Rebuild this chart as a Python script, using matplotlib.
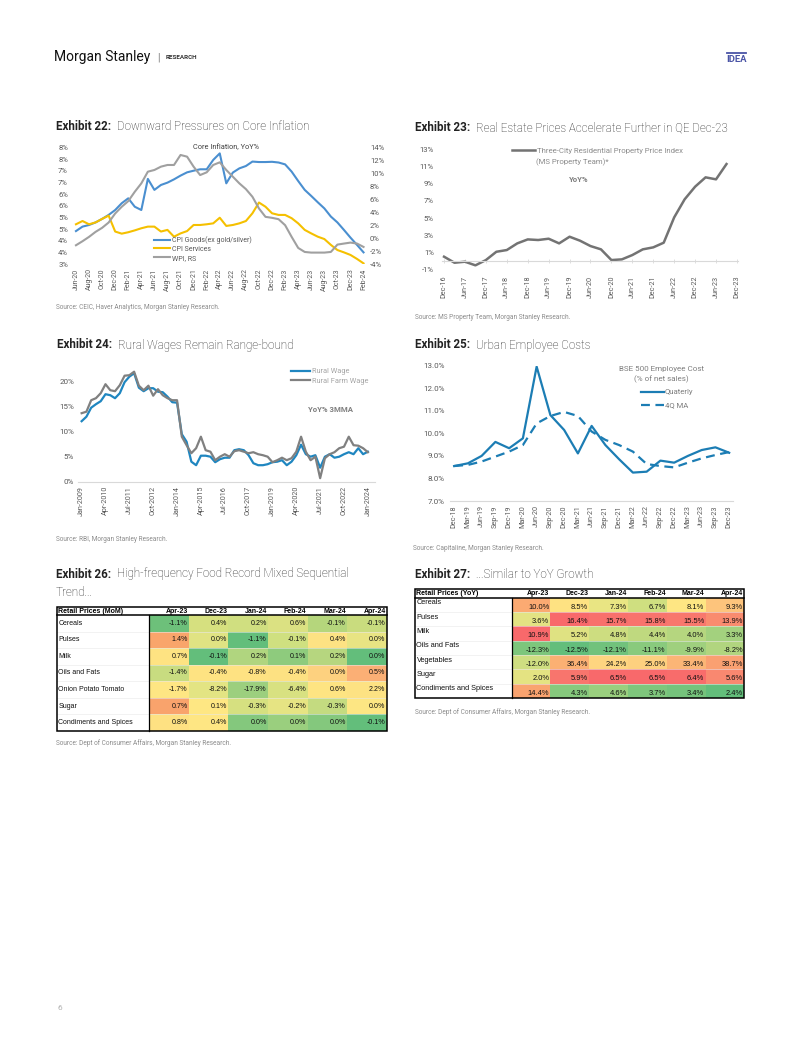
import matplotlib.pyplot as plt
import numpy as np
import pandas as pd
from matplotlib.patches import Rectangle
from matplotlib.ticker import FuncFormatter

plt.rcParams['font.family'] = ['Roboto', 'DejaVu Sans']

#==============================================================================
# DATA
#==============================================================================

# Exhibit 22 - monthly Jun-20 .. Feb-24
months22 = pd.date_range('2020-06-01', '2024-02-01', freq='MS').strftime('%b-%y')
cpi_goods = [4.42, 4.61, 4.68, 4.79, 4.94, 5.11, 5.32,
             5.61, 5.82, 5.46, 5.32, 6.65, 6.18, 6.39, 6.49, 6.63, 6.79, 6.93, 7.00,
             7.06, 7.06, 7.46, 7.74, 6.46, 6.92, 7.10, 7.20, 7.39, 7.37, 7.37, 7.38,
             7.35, 7.27, 6.96, 6.56, 6.18, 5.92, 5.65, 5.39, 5.04, 4.79, 4.47, 4.14,
             3.83, 3.51]
cpi_services = [4.71, 4.85, 4.71, 4.79, 4.94, 5.08, 4.40,
                4.31, 4.37, 4.45, 4.54, 4.61, 4.61, 4.40, 4.47, 4.18, 4.32, 4.42, 4.68,
                4.68, 4.71, 4.75, 4.99, 4.64, 4.68, 4.75, 4.85, 5.18, 5.64, 5.46, 5.18,
                5.11, 5.11, 4.97, 4.75, 4.47, 4.32, 4.18, 4.08, 3.83, 3.61, 3.51, 3.40,
                3.23, 3.04]
wpi = [-1.07, -0.45, 0.22, 0.99, 1.61, 2.43, 3.82,
       4.85, 5.72, 7.16, 8.45, 10.25, 10.51, 11.02, 11.28, 11.28, 12.82, 12.56, 11.02,
       9.73, 10.15, 11.28, 11.69, 10.51, 9.48, 8.45, 7.57, 6.39, 4.59, 3.30, 3.15,
       2.94, 2.02, 0.22, -1.48, -2.10, -2.20, -2.20, -2.20, -2.10, -0.97, -0.81, -0.66,
       -0.81, -1.33]

# Exhibit 23 - quarterly Dec-16 .. Sep-23
tick_labels23 = pd.date_range('2016-12-01', '2023-12-01', freq='6MS').strftime('%b-%y')
property_yoy = [0.54, -0.16, -0.04, -0.46, 0.15, 1.11, 1.31, 2.08, 2.54, 2.47,
                2.62, 2.08, 2.85, 2.39, 1.77, 1.39, 0.15, 0.23, 0.73, 1.39,
                1.62, 2.16, 5.09, 7.18, 8.64, 9.72, 9.49, 11.26]

# Exhibit 24 - every third month Jan-2009 .. Jan-2024
tick_labels24 = pd.date_range('2009-01-01', periods=13, freq='15MS').strftime('%b-%Y')
rural_wage = [12.1, 13.0, 14.8, 15.5, 16.1, 17.5, 17.3, 16.7, 17.7, 19.9, 21.0,
              21.7, 18.8, 18.1, 18.7, 18.7, 18.0, 17.9, 17.0, 15.9, 15.8, 9.5,
              8.0, 4.0, 3.3, 5.2, 5.2, 5.0, 3.9, 4.5, 4.8,
              4.8, 6.3, 6.5, 6.3, 5.3, 3.7, 3.3, 3.3, 3.5, 3.9, 4.0, 4.3, 3.3,
              4.0, 5.3, 7.4, 5.5, 5.0, 5.3, 2.8, 5.0, 5.5, 4.8, 5.0, 5.5, 5.9,
              5.5, 6.7, 5.5, 6.0]
rural_farm_wage = [13.7, 14.0, 16.3, 16.7, 17.7, 19.5, 18.3, 18.1, 19.3, 21.2, 21.3,
                   22.0, 19.2, 18.3, 19.2, 17.2, 18.5, 17.3, 16.7, 16.3, 16.3, 9.0,
                   7.3, 5.7, 6.7, 9.0, 6.3, 6.0, 4.3, 5.0, 5.5,
                   5.0, 6.1, 6.3, 6.0, 5.7, 5.9, 5.5, 5.3, 5.0, 3.9, 4.3, 4.8, 4.3,
                   4.7, 6.0, 9.0, 6.0, 4.3, 5.0, 0.7, 4.7, 5.5, 5.9, 6.7, 7.0, 9.0,
                   7.3, 7.2, 6.7, 5.9]

# Exhibit 25 - quarterly Dec-18 .. Dec-23
quarters25 = pd.date_range('2018-12-01', '2023-12-01', freq='3MS').strftime('%b-%y')
emp_cost_q = [8.55, 8.67, 9.00, 9.62, 9.34, 9.78, 12.96, 10.81, 10.15, 9.11, 10.33,
              9.48, 8.85, 8.26, 8.30, 8.79, 8.70, 9.00, 9.26, 9.38, 9.14]
emp_cost_ma = [8.55, 8.60, 8.75, 8.97, 9.19, 9.48, 10.44, 10.77, 10.95, 10.77, 10.08,
               9.71, 9.48, 9.19, 8.64, 8.55, 8.49, 8.70, 8.89, 9.04, 9.17]

# Exhibits 26 / 27 - retail price tables
table_cols = ['Apr-23', 'Dec-23', 'Jan-24', 'Feb-24', 'Mar-24', 'Apr-24']
mom_rows = ['Cereals', 'Pulses', 'Milk', 'Oils and Fats', 'Onion Potato Tomato',
            'Sugar', 'Condiments and Spices']
mom_vals = [[-1.1, 0.4, 0.2, 0.6, -0.1, -0.1],
            [1.4, 0.0, -1.1, -0.1, 0.4, 0.0],
            [0.7, -0.1, 0.2, 0.1, 0.2, 0.0],
            [-1.4, -0.4, -0.8, -0.4, 0.0, 0.5],
            [-1.7, -8.2, -17.9, -6.4, 0.6, 2.2],
            [0.7, 0.1, -0.3, -0.2, -0.3, 0.0],
            [0.8, 0.4, 0.0, 0.0, 0.0, -0.1]]
yoy_rows = ['Cereals', 'Pulses', 'Milk', 'Oils and Fats', 'Vegetables', 'Sugar',
            'Condiments and Spices']
yoy_vals = [[10.0, 8.5, 7.3, 6.7, 8.1, 9.3],
            [3.6, 16.4, 15.7, 15.8, 15.5, 13.9],
            [10.9, 5.2, 4.8, 4.4, 4.0, 3.3],
            [-12.3, -12.5, -12.1, -11.1, -9.9, -8.2],
            [-12.0, 36.4, 24.2, 25.0, 33.4, 38.7],
            [2.0, 5.9, 6.5, 6.5, 6.4, 5.6],
            [14.4, 4.3, 4.6, 3.7, 3.4, 2.4]]

# cell fills (conditional formatting in the original)
mom_colors = [['#6dc07a', '#d6e07f', '#d0df80', '#dbe182', '#b5d67c', '#c9dc7e'],
              ['#f9a56b', '#e0e383', '#63be7b', '#cfe080', '#fde283', '#e8e483'],
              ['#fee382', '#63be7b', '#b0d57f', '#8ecb7d', '#b6d67f', '#63be7b'],
              ['#c8dc80', '#fee382', '#fee282', '#fde182', '#fdd17f', '#fbaf75'],
              ['#fee683', '#e3e483', '#9ccf7e', '#d8e181', '#fee482', '#fde283'],
              ['#f9a36c', '#fee783', '#d6e080', '#e6e483', '#c4db80', '#fde683'],
              ['#fee182', '#fee683', '#84c87d', '#9acf7e', '#84c87d', '#63be7b']]
yoy_colors = [['#fbaa72', '#fee282', '#e9e583', '#cfdf80', '#fee683', '#fdc47c'],
              ['#e3e383', '#f8696b', '#f8706c', '#f8736d', '#f8776d', '#f98b6f'],
              ['#f8696b', '#dfe282', '#cddd80', '#bfd97f', '#b5d67f', '#a3d17e'],
              ['#7dc67c', '#63be7b', '#71c27c', '#89ca7d', '#9fd07e', '#b1d57f'],
              ['#cfde81', '#fbb073', '#fed580', '#fdd07f', '#fbb576', '#faa071'],
              ['#e4e382', '#f8756d', '#f8696b', '#f8696b', '#f86c6b', '#f98870'],
              ['#f9a36f', '#86c97d', '#9acf7e', '#7ec67c', '#75c37c', '#63be7b']]

#==============================================================================
# PAGE
#==============================================================================

W, H = 802, 1037
fig = plt.figure(figsize=(W / 100, H / 100), dpi=100)
page = fig.add_axes([0, 0, 1, 1])
page.set_xlim(0, W)
page.set_ylim(H, 0)
page.axis('off')
renderer = fig.canvas.get_renderer()

TICK = '#595959'
SRC = '#8c8c8c'


def px_axes(x0, y0, x1, y1):
    ax = fig.add_axes([x0 / W, 1 - y1 / H, (x1 - x0) / W, (y1 - y0) / H])
    ax.patch.set_alpha(0)
    for s in ax.spines.values():
        s.set_visible(False)
    return ax


def exhibit_title(x, y, num, text):
    t = page.text(x, y, f'Exhibit {num}:', fontsize=8.4, fontweight='bold',
                  color='#222222', va='center')
    bb = t.get_window_extent(renderer=renderer)
    page.text(bb.x1 + 6, y, text, fontsize=8.4, fontweight='light', color='#262626', va='center')


def source(x, y, text):
    page.text(x, y, text, fontsize=4.7, color=SRC, va='center')


# header
page.text(54.5, 57, 'Morgan Stanley', fontsize=10, color='#111111', va='center')
page.text(157, 57, '|', fontsize=7, color='#777777', va='center')
page.text(166, 57.5, 'RESEARCH', fontsize=4.5, fontweight='bold', color='#333333', va='center')
page.text(736.5, 59, 'IDEA', fontsize=6.8, fontweight='bold', color='#4a54a6', va='center', ha='center')
page.plot([727, 746], [53, 53], color='#4a54a6', lw=1.3)
page.text(57, 1008, '6', fontsize=6, color='#b0b0b0', va='center')

#==============================================================================
# EXHIBIT 22
#==============================================================================
exhibit_title(55.7, 126.7, 22, 'Downward Pressures on Core Inflation')
ax = px_axes(74, 147.3, 365.5, 264.3)
x22 = np.arange(len(months22))
ax.plot(x22, cpi_goods, color='#4a8fd0', lw=1.5, label='CPI Goods(ex gold/silver)')
ax.plot(x22, cpi_services, color='#f5c000', lw=1.5, label='CPI Services')
ax2 = ax.twinx()
ax2.patch.set_alpha(0)
for s in ax2.spines.values():
    s.set_visible(False)
ax2.plot(x22, wpi, color='#a0a0a0', lw=1.5, label='WPI, RS')
ax.set_xlim(-0.3, len(months22) - 0.7)
ax.set_ylim(3, 8)
ax.set_yticks(np.arange(3, 8.01, 0.5))
ax.yaxis.set_major_formatter(FuncFormatter(lambda v, p: f'{int(np.floor(v + 0.5))}%'))
ax2.set_ylim(-4, 14)
ax2.set_yticks(np.arange(-4, 14.1, 2))
ax2.yaxis.set_major_formatter(FuncFormatter(lambda v, p: f'{v:.0f}%'))
ax.set_xticks(x22[::2])
ax.set_xticklabels(months22[::2], rotation=90)
ax.tick_params(axis='x', length=0, labelsize=5.0, labelcolor=TICK, pad=3)
ax.tick_params(axis='y', length=0, labelsize=5.5, labelcolor=TICK, pad=4.3)
ax2.tick_params(axis='y', length=0, labelsize=5.5, labelcolor=TICK, pad=3.2)
ax.text(0.52, 1.0, 'Core Inflation, YoY%', transform=ax.transAxes, ha='center', va='center',
        fontsize=5.3, color='#404040')
h1, l1 = ax.get_legend_handles_labels()
h2, l2 = ax2.get_legend_handles_labels()
ax2.legend(h1 + h2, l1 + l2, loc='upper left', bbox_to_anchor=(154 / W, 1 - 236 / H),
           bbox_transform=fig.transFigure, frameon=False, fontsize=5.0, labelcolor=TICK,
           handlelength=2.3, handletextpad=0.25, labelspacing=0.28, borderpad=0, borderaxespad=0)
source(55.7, 307.7, 'Source: CEIC, Haver Analytics, Morgan Stanley Research.')

#==============================================================================
# EXHIBIT 23
#==============================================================================
exhibit_title(415, 127.7, 23, 'Real Estate Prices Accelerate Further in QE Dec-23')
ax = px_axes(442.3, 149, 738, 270)
x23 = np.arange(len(property_yoy)) * 3
ax.plot(x23, property_yoy, color='#737373', lw=1.8,
        label='Three-City Residential Property Price Index')
ax.set_xlim(-0.5, 84.3)
ax.set_ylim(-1, 13)
ax.set_yticks(np.arange(-1, 13.1, 2))
ax.yaxis.set_major_formatter(FuncFormatter(lambda v, p: f'{v:.0f}%'))
ax.spines['bottom'].set_visible(True)
ax.spines['bottom'].set_position(('data', 0))
ax.spines['bottom'].set_color('#d9d9d9')
ax.spines['bottom'].set_linewidth(0.8)
ax.set_xticks(np.arange(0, 84.1, 6))
ax.set_xticklabels(tick_labels23, rotation=90)
ax.tick_params(axis='x', direction='inout', length=3.5, width=0.6, color='#d9d9d9',
               labelsize=5.2, labelcolor=TICK, pad=8.5)
ax.tick_params(axis='y', length=0, labelsize=5.6, labelcolor=TICK, pad=6)
ax.legend(loc='upper left', bbox_to_anchor=(512 / W, 1 - 147.5 / H), bbox_transform=fig.transFigure,
          frameon=False, fontsize=5.6, labelcolor='#8c8c8c', handlelength=3.0,
          handletextpad=0.2, borderpad=0, borderaxespad=0)
page.text(535.5, 161.7, '(MS Property Team)*', fontsize=5.6, color='#8c8c8c', va='center')
page.text(579, 180, 'YoY%', fontsize=5.6, fontweight='bold', color='#7f7f7f', va='center', ha='center')
source(415, 317.3, 'Source: MS Property Team, Morgan Stanley Research.')

#==============================================================================
# EXHIBIT 24
#==============================================================================
exhibit_title(56.7, 345, 24, 'Rural Wages Remain Range-bound')
ax = px_axes(78.3, 366.7, 375, 481.7)
x24 = np.arange(len(rural_wage)) * 3
ax.plot(x24, rural_wage, color='#1f86c0', lw=1.6, label='Rural Wage')
ax.plot(x24, rural_farm_wage, color='#808080', lw=1.6, label='Rural Farm Wage')
ax.set_xlim(-2.1, 184.5)
ax.set_ylim(0, 23)
ax.set_yticks(np.arange(0, 20.1, 5))
ax.yaxis.set_major_formatter(FuncFormatter(lambda v, p: f'{v:.0f}%'))
ax.spines['bottom'].set_visible(True)
ax.spines['bottom'].set_color('#d9d9d9')
ax.spines['bottom'].set_linewidth(0.8)
ax.set_xticks(np.arange(0, 180.1, 15))
ax.set_xticklabels(tick_labels24, rotation=90)
ax.tick_params(axis='x', length=0, labelsize=5.2, labelcolor=TICK, pad=3)
ax.tick_params(axis='y', length=0, labelsize=5.8, labelcolor=TICK, pad=3)
ax.legend(loc='upper left', bbox_to_anchor=(291 / W, 1 - 368 / H), bbox_transform=fig.transFigure,
          frameon=False, fontsize=5.3, labelcolor='#a6a6a6', handlelength=2.6,
          handletextpad=0.2, labelspacing=0.3, borderpad=0, borderaxespad=0)
page.text(331, 409, 'YoY% 3MMA', fontsize=5.6, fontweight='bold', color='#7f7f7f', va='center', ha='center')
source(56, 539.3, 'Source: RBI, Morgan Stanley Research.')

#==============================================================================
# EXHIBIT 25
#==============================================================================
exhibit_title(415, 345, 25, 'Urban Employee Costs')
ax = px_axes(450, 365.7, 733.3, 501)
x25 = np.arange(len(quarters25))
ax.plot(x25, emp_cost_q, color='#1c7db4', lw=1.6, label='Quaterly')
ax.plot(x25, emp_cost_ma, color='#1c7db4', lw=1.6, ls=(0, (4, 2.5)), label='4Q MA')
ax.set_xlim(-0.3, 20.3)
ax.set_ylim(7, 13)
ax.set_yticks(np.arange(7, 13.01, 1))
ax.yaxis.set_major_formatter(FuncFormatter(lambda v, p: f'{v:.1f}%'))
ax.spines['bottom'].set_visible(True)
ax.spines['bottom'].set_color('#d9d9d9')
ax.spines['bottom'].set_linewidth(0.8)
ax.set_xticks(x25)
ax.set_xticklabels(quarters25, rotation=90)
ax.tick_params(axis='x', length=0, labelsize=5.2, labelcolor=TICK, pad=3)
ax.tick_params(axis='y', length=0, labelsize=5.8, labelcolor=TICK, pad=3.6)
ax.legend(loc='upper left', bbox_to_anchor=(641 / W, 1 - 389 / H), bbox_transform=fig.transFigure,
          frameon=False, fontsize=5.6, labelcolor='#7f7f7f', handlelength=2.9,
          handletextpad=0.2, labelspacing=0.85, borderpad=0, borderaxespad=0)
page.text(661.7, 369, 'BSE 500 Employee Cost', fontsize=5.8, color='#7f7f7f', va='center', ha='center')
page.text(661.7, 379.3, '(% of net sales)', fontsize=5.8, color='#7f7f7f', va='center', ha='center')
source(413, 548.3, 'Source: Capitaline, Morgan Stanley Research.')

#==============================================================================
# TABLES
#==============================================================================


def draw_table(x0, x1, first_w, top, head_h, row_h, corner, rows, vals, colors, split, fs):
    col_w = (x1 - x0 - first_w) / len(table_cols)
    bottom = top + head_h + row_h * len(rows)
    tfont = ['Liberation Sans', 'DejaVu Sans']
    page.text(x0 + 1.5, top + head_h / 2 + 0.3, corner, fontsize=5, fontweight='bold',
              family=tfont, va='center')
    for j, c in enumerate(table_cols):
        page.text(x0 + first_w + (j + 1) * col_w - 1.2, top + head_h / 2 + 0.3, c, fontsize=5,
                  fontweight='bold', family=tfont, va='center', ha='right')
    for i, r in enumerate(rows):
        ry = top + head_h + i * row_h
        ly = ry + row_h * (0.36 if split else 0.5)
        vy = ry + row_h * (0.66 if split else 0.5)
        page.text(x0 + 1.5, ly, r, fontsize=fs, family=tfont, va='center', color='#111111')
        for j, v in enumerate(vals[i]):
            cx = x0 + first_w + j * col_w
            page.add_patch(Rectangle((cx, ry), col_w, row_h, fc=colors[i][j], ec='none', zorder=1))
            page.text(cx + col_w - 1.2, vy, f'{v:.1f}%', fontsize=fs + 0.1, family=tfont,
                      va='center', ha='right', color='#111111', zorder=3)
        if i > 0:
            page.plot([x0, x1], [ry, ry], color='#e8e8e8', lw=0.4, zorder=2)
    page.add_patch(Rectangle((x0, top), x1 - x0, bottom - top, fill=False, ec='black', lw=1.1, zorder=4))
    page.plot([x0, x1], [top + head_h, top + head_h], color='black', lw=1.1, zorder=4)
    page.plot([x0 + first_w, x0 + first_w], [top + head_h, bottom], color='black', lw=0.9, zorder=4)


exhibit_title(55.7, 574, 26, 'High-frequency Food Record Mixed Sequential')
page.text(55.7, 592.3, 'Trend...', fontsize=8.4, fontweight='light', color='#262626', va='center')
draw_table(56.7, 386.7, 92.6, 606.7, 8.3, 16.57, 'Retail Prices (MoM)', mom_rows, mom_vals,
           mom_colors, False, 5.0)
source(56, 743.3, 'Source: Dept of Consumer Affairs, Morgan Stanley Research.')

exhibit_title(415, 574, 27, '...Similar to YoY Growth')
draw_table(415, 744.3, 96.7, 589, 8.7, 14.33, 'Retail Prices (YoY)', yoy_rows, yoy_vals,
           yoy_colors, True, 5.3)
source(415, 711.7, 'Source: Dept of Consumer Affairs, Morgan Stanley Research.')

fig.savefig('out.png', dpi=100)
